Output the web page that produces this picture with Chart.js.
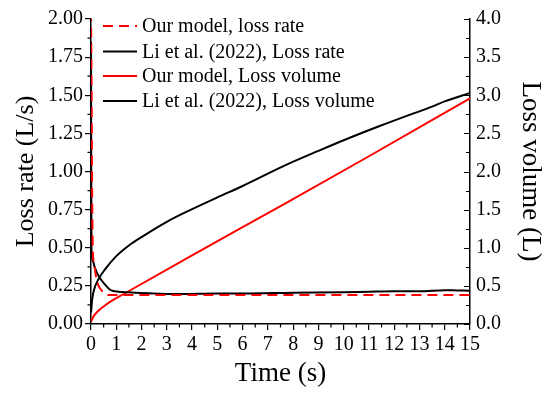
<!DOCTYPE html>
<html>
<head>
<meta charset="utf-8">
<script src="https://cdn.jsdelivr.net/npm/chart.js@4.4.1/dist/chart.umd.min.js"></script>
<style>
  html, body { margin: 0; padding: 0; background: #fff; }
  #wrap { width: 550px; height: 394px; }
</style>
</head>
<body>
<div id="wrap"><canvas id="grafico" width="550" height="394"></canvas></div>
<script>
// valores
const ourRateT = [0, 0.02, 0.04, 0.07, 0.12, 0.2, 0.3, 0.42, 0.54, 0.7, 1.0, 15];
const ourRateV = [2.05, 1.6, 1.0, 0.5, 0.4, 0.31, 0.25, 0.22, 0.2, 0.19, 0.19, 0.19];

const liRateT = [0, 0.01, 0.02, 0.08, 0.14, 0.25, 0.4, 0.6, 0.8, 1.2, 1.73, 2.5, 3.5, 5, 6, 8, 10, 11, 12, 13, 14, 14.5, 15];
const liRateV = [1.85, 1.0, 0.47, 0.41, 0.376, 0.33, 0.29, 0.25, 0.22, 0.21, 0.205, 0.2, 0.196, 0.2, 0.2, 0.205, 0.208, 0.212, 0.215, 0.215, 0.222, 0.22, 0.218];

const ourVolT = [0, 0.1, 0.25, 0.5, 0.8, 1.33, 4, 7.68, 11, 15];
const ourVolV = [0.03, 0.1, 0.16, 0.23, 0.3, 0.4, 0.9, 1.58, 2.2, 2.96];

const liVolT = [0, 0.05, 0.14, 0.3, 0.54, 1, 1.5, 2, 3, 3.71, 5, 6, 7.68, 9, 10, 11.45, 12.5, 13.5, 14, 15];
const liVolV = [0.15, 0.33, 0.47, 0.59, 0.71, 0.89, 1.03, 1.14, 1.34, 1.46, 1.66, 1.81, 2.08, 2.27, 2.41, 2.6, 2.73, 2.85, 2.92, 3.03];

const legendLabels = ['Our model, loss rate', 'Li et al. (2022), Loss rate', 'Our model, Loss volume', 'Li et al. (2022), Loss volume'];

const FONT = '"Liberation Serif", "Times New Roman", serif';

function pares(t, v) {
    return t.map((x, i) => ({ x: x, y: v[i] }));
}

// ticks menores + ticks do eixo direito (para dentro)
const minorTicks = {
    id: 'minorTicks',
    afterDraw(chart) {
        const ctx = chart.ctx;
        const a = chart.chartArea;
        ctx.save();
        ctx.strokeStyle = '#000';
        ctx.lineWidth = 1.2;
        const x = chart.scales.x, yl = chart.scales.y, yr = chart.scales.y1;
        ctx.beginPath();
        for (let v = 0.5; v < 15; v += 1) {
            const px = x.getPixelForValue(v);
            ctx.moveTo(px, a.bottom); ctx.lineTo(px, a.bottom + 3.5);
        }
        for (let v = 0.125; v < 2; v += 0.25) {
            const py = yl.getPixelForValue(v);
            ctx.moveTo(a.left, py); ctx.lineTo(a.left - 3.5, py);
        }
        for (let v = 0; v <= 4.001; v += 0.25) {
            const py = Math.round(yr.getPixelForValue(v)) + 0.5;
            const len = (Math.round(v * 4) % 2 === 0) ? 6 : 4;
            ctx.moveTo(a.right, py); ctx.lineTo(a.right - len, py);
        }
        ctx.stroke();
        ctx.restore();
    }
};

// legenda dentro da área do gráfico
const legendaInterna = {
    id: 'legendaInterna',
    afterDraw(chart) {
        const ctx = chart.ctx;
        const rows = [26, 51.5, 76, 101];
        ctx.save();
        ctx.font = '20px ' + FONT;
        ctx.textBaseline = 'middle';
        chart.data.datasets.forEach((ds, i) => {
            ctx.strokeStyle = ds.borderColor;
            ctx.lineWidth = 2;
            ctx.setLineDash(ds.borderDash || []);
            ctx.beginPath();
            ctx.moveTo(103, rows[i]);
            ctx.lineTo(137, rows[i]);
            ctx.stroke();
            ctx.setLineDash([]);
            ctx.fillStyle = '#000';
            ctx.fillText(legendLabels[i], 142, rows[i] + 1);
        });
        ctx.restore();
    }
};

const ctx = document.getElementById('grafico').getContext('2d');

new Chart(ctx, {
    type: 'line',
    data: {
        datasets: [
            { data: pares(ourRateT, ourRateV), yAxisID: 'y', borderColor: '#ff0000', borderDash: [10, 6], borderWidth: 2 },
            { data: pares(liRateT, liRateV), yAxisID: 'y', borderColor: '#000000', borderWidth: 2 },
            { data: pares(ourVolT, ourVolV), yAxisID: 'y1', borderColor: '#ff0000', borderWidth: 2 },
            { data: pares(liVolT, liVolV), yAxisID: 'y1', borderColor: '#000000', borderWidth: 2 }
        ]
    },
    options: {
        responsive: false,
        animation: false,
        elements: { point: { radius: 0 }, line: { cubicInterpolationMode: 'monotone' } },
        layout: { padding: { top: 19, left: 0, right: 0, bottom: 0 } },
        plugins: { legend: { display: false }, tooltip: { enabled: false } },
        scales: {
            x: {
                type: 'linear', min: 0, max: 15,
                ticks: { stepSize: 1, color: '#000', font: { family: FONT, size: 20 }, padding: 3, maxRotation: 0 },
                grid: { drawOnChartArea: false, drawTicks: true, tickLength: 6, color: '#000', lineWidth: 1.2 },
                border: { color: '#000', width: 1.5 },
                title: { display: true, text: 'Time (s)', color: '#000', font: { family: FONT, size: 27 }, padding: { top: 0, bottom: 4 } },
                afterFit(s) { s.height = 70; }
            },
            y: {
                position: 'left', min: 0, max: 2,
                ticks: { stepSize: 0.25, color: '#000', font: { family: FONT, size: 20 }, padding: 2, callback: v => v.toFixed(2) },
                grid: { drawOnChartArea: false, drawTicks: true, tickLength: 6, color: '#000', lineWidth: 1.2 },
                border: { color: '#000', width: 1.5 },
                title: { display: true, text: 'Loss rate (L/s)', color: '#000', font: { family: FONT, size: 26 }, padding: { top: 11 } },
                afterFit(s) { s.width = 91; }
            },
            y1: {
                position: 'right', min: 0, max: 4,
                ticks: { stepSize: 0.5, color: '#000', font: { family: FONT, size: 20 }, padding: 6, callback: v => v.toFixed(1) },
                grid: { drawOnChartArea: false, drawTicks: false, tickLength: 0, color: '#000', lineWidth: 1.2 },
                border: { color: '#000', width: 1.5 },
                title: { display: true, text: 'Loss volume (L)', color: '#000', font: { family: FONT, size: 27 }, padding: { top: 4 } },
                afterFit(s) { s.width = 80; }
            }
        }
    },
    plugins: [minorTicks, legendaInterna]
});
</script>
</body>
</html>
